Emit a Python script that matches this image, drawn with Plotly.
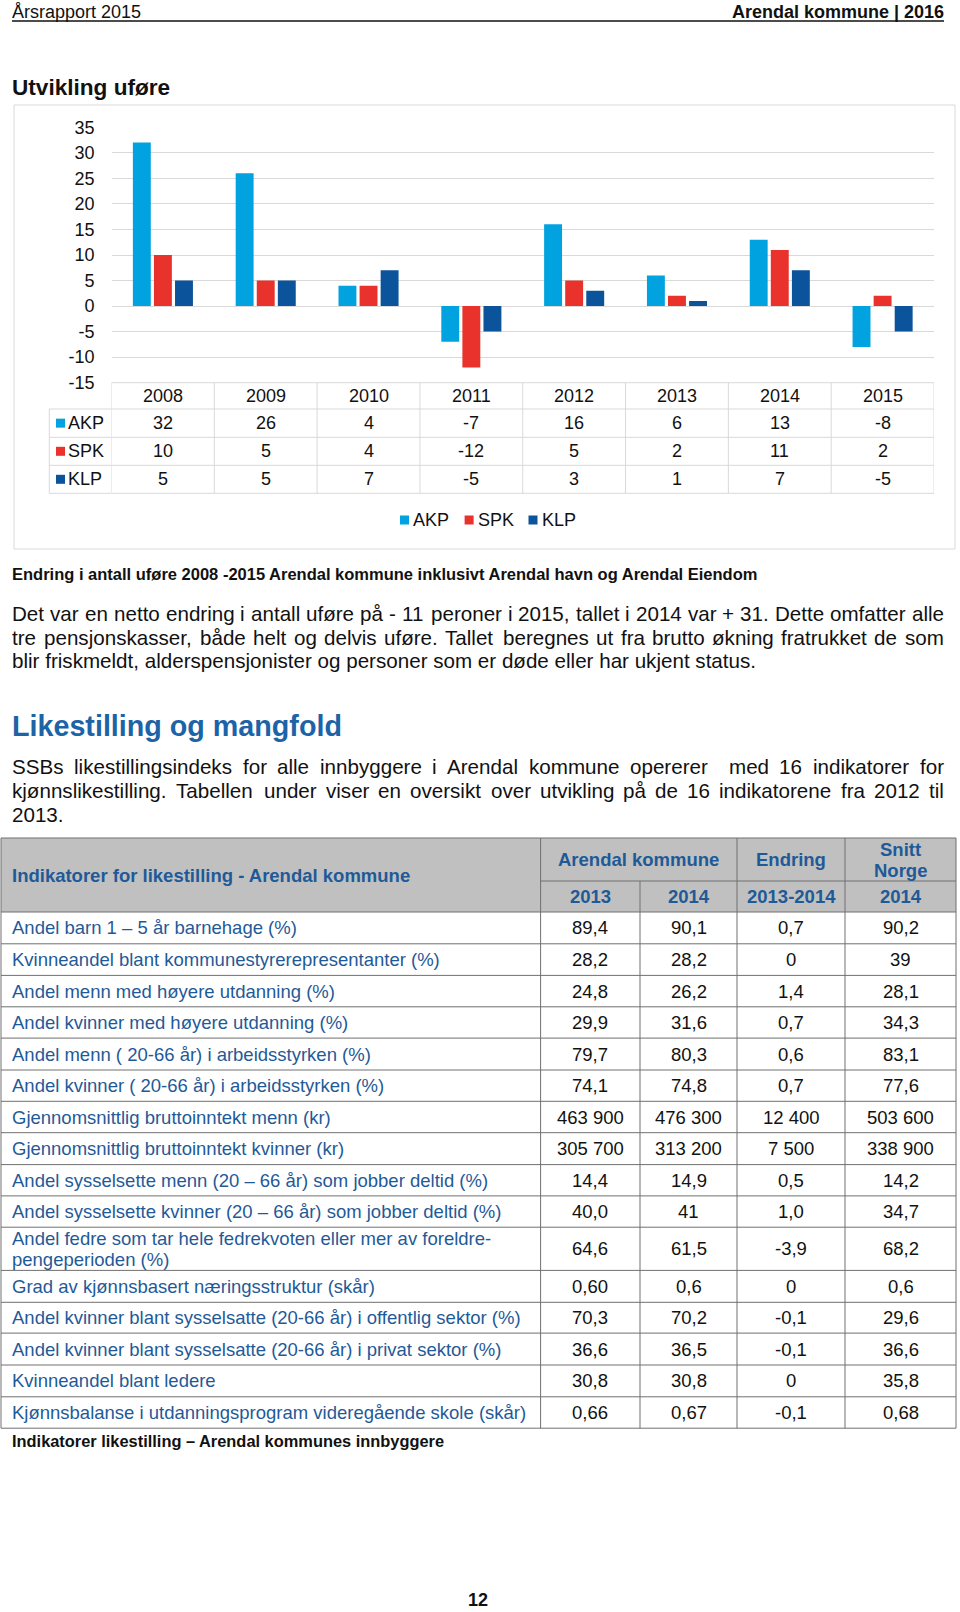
import plotly.graph_objects as go

W, H = 960, 1612
FONT = "Liberation Sans, Arial, Helvetica, sans-serif"

# ---------------- data ----------------
years = ["2008", "2009", "2010", "2011", "2012", "2013", "2014", "2015"]
series_names = ["AKP", "SPK", "KLP"]
akp = [32, 26, 4, -7, 16, 6, 13, -8]
spk = [10, 5, 4, -12, 5, 2, 11, 2]
klp = [5, 5, 7, -5, 3, 1, 7, -5]
y_ticks = [-15, -10, -5, 0, 5, 10, 15, 20, 25, 30, 35]

indicators = [
    "Andel barn 1 – 5 år barnehage (%)",
    "Kvinneandel blant kommunestyrerepresentanter (%)",
    "Andel menn med høyere utdanning (%)",
    "Andel kvinner med høyere utdanning (%)",
    "Andel menn ( 20-66 år) i arbeidsstyrken (%)",
    "Andel kvinner ( 20-66 år) i arbeidsstyrken (%)",
    "Gjennomsnittlig bruttoinntekt menn (kr)",
    "Gjennomsnittlig bruttoinntekt kvinner (kr)",
    "Andel sysselsette menn (20 – 66 år) som jobber deltid (%)",
    "Andel sysselsette kvinner (20 – 66 år) som jobber deltid (%)",
    "Andel fedre som tar hele fedrekvoten eller mer av foreldre-|pengeperioden (%)",
    "Grad av kjønnsbasert næringsstruktur (skår)",
    "Andel kvinner blant sysselsatte (20-66 år) i offentlig sektor (%)",
    "Andel kvinner blant sysselsatte (20-66 år) i privat sektor (%)",
    "Kvinneandel blant ledere",
    "Kjønnsbalanse i utdanningsprogram videregående skole (skår)",
]
v2013 = ["89,4", "28,2", "24,8", "29,9", "79,7", "74,1", "463 900", "305 700",
         "14,4", "40,0", "64,6", "0,60", "70,3", "36,6", "30,8", "0,66"]
v2014 = ["90,1", "28,2", "26,2", "31,6", "80,3", "74,8", "476 300", "313 200",
         "14,9", "41", "61,5", "0,6", "70,2", "36,5", "30,8", "0,67"]
endring = ["0,7", "0", "1,4", "0,7", "0,6", "0,7", "12 400", "7 500",
           "0,5", "1,0", "-3,9", "0", "-0,1", "-0,1", "0", "-0,1"]
snitt_norge = ["90,2", "39", "28,1", "34,3", "83,1", "77,6", "503 600", "338 900",
               "14,2", "34,7", "68,2", "0,6", "29,6", "36,6", "35,8", "0,68"]
sub_headers = ["2013", "2014", "2013-2014", "2014"]

para1 = [
    "Det var en netto endring i antall uføre på - 11 peroner i 2015, tallet i 2014 var + 31. Dette omfatter alle",
    "tre pensjonskasser, både helt og delvis uføre. Tallet beregnes ut fra brutto økning fratrukket de som",
    "blir friskmeldt, alderspensjonister og personer som er døde eller har ukjent status.",
]
para2 = [
    "SSBs likestillingsindeks for alle innbyggere i Arendal kommune opererer  med 16 indikatorer for",
    "kjønnslikestilling. Tabellen under viser en oversikt over utvikling på de 16 indikatorene fra 2012 til",
    "2013.",
]

# ---------------- styles ----------------
C_AKP, C_SPK, C_KLP = "#00A3E0", "#E8322B", "#0B539B"
series_colors = [C_AKP, C_SPK, C_KLP]
GRID = "#D9D9D9"
BLUE_TXT = "#1F5A98"
HEAD_BLUE = "#1C63A8"
TXT = "#111111"
TLINE = "#707070"
HEAD_BG = "#C0C0C0"


def px(x):
    return x / W


def py(y):
    return 1 - y / H


# Helvetica / Arial advance widths (1/1000 em) for justification
_chars = " !\"#$%&'()*+,-./0123456789:;<=>?@ABCDEFGHIJKLMNOPQRSTUVWXYZ[\\]^_`abcdefghijklmnopqrstuvwxyz{|}~"
_w = ([278, 278, 355, 556, 556, 889, 667, 191, 333, 333, 389, 584, 278, 333, 278, 278]
      + [556] * 10 + [278, 278, 584, 584, 584, 556, 1015]
      + [667, 667, 722, 722, 667, 611, 778, 722, 278, 500, 667, 556, 833, 722, 778, 667,
         778, 722, 667, 611, 722, 667, 944, 667, 667, 611]
      + [278, 278, 278, 469, 556, 333]
      + [556, 556, 500, 556, 556, 278, 556, 556, 222, 222, 500, 222, 833, 556, 556, 556,
         556, 333, 500, 278, 556, 500, 722, 500, 500, 500]
      + [334, 260, 334, 584])
HELV = dict(zip(_chars, _w))
HELV.update({"å": 556, "ø": 611, "æ": 889, "Å": 667, "Ø": 778, "Æ": 1000, "–": 556})


def tw(s, size):
    return sum(HELV.get(c, 556) for c in s) * size / 1000.0


annotations = []
shapes = []


def ann(text, x, y, size, color=TXT, bold=False, xanchor="left", xref="paper", yanchor="middle"):
    annotations.append(dict(
        text=text, x=x, y=y, xref=xref, yref="paper", showarrow=False,
        xanchor=xanchor, yanchor=yanchor, borderpad=0, borderwidth=0,
        font=dict(family=FONT, size=size, color=color, weight="bold" if bold else "normal"),
    ))


def hline(x0, x1, y, color, width=1, xref="paper"):
    shapes.append(dict(type="line", xref=xref, yref="paper", x0=x0, x1=x1, y0=py(y), y1=py(y),
                       line=dict(color=color, width=width)))


def vline(x, y0, y1, color, width=1, xref="paper"):
    shapes.append(dict(type="line", xref=xref, yref="paper", x0=x, x1=x, y0=py(y0), y1=py(y1),
                       line=dict(color=color, width=width)))


def rect(x0, y0, x1, y1, fill=None, line=None, xref="paper"):
    shapes.append(dict(type="rect", xref=xref, yref="paper", x0=x0, x1=x1, y0=py(y0), y1=py(y1),
                       fillcolor=fill if fill else "rgba(0,0,0,0)",
                       line=dict(color=line if line else "rgba(0,0,0,0)", width=1 if line else 0),
                       layer="below"))


# ---------------- figure / bars ----------------
fig = go.Figure()
for name, vals, col in zip(series_names, [akp, spk, klp], series_colors):
    fig.add_bar(x=years, y=vals, name=name, marker=dict(color=col, line=dict(width=0)))

PLOT_L, PLOT_R = 111.5, 934.0
Y_TOP, Y_BOT = 127.3, 382.7
n_cat = len(years)

fig.update_layout(
    width=W, height=H, margin=dict(l=0, r=0, t=0, b=0, autoexpand=False),
    paper_bgcolor="white", plot_bgcolor="white", showlegend=False,
    barmode="group", bargap=0.385, bargroupgap=0.15,
    font=dict(family=FONT, color=TXT),
)
fig.update_xaxes(type="category", domain=[px(PLOT_L), px(PLOT_R)], range=[-0.5, n_cat - 0.5],
                 autorange=False, showticklabels=False, automargin=False,
                 showgrid=False, zeroline=False, showline=False, ticks="")
fig.update_yaxes(range=[-15, 35], domain=[py(Y_BOT), py(Y_TOP)], automargin=False,
                 tickvals=y_ticks, ticktext=[str(v) for v in y_ticks],
                 gridcolor=GRID, gridwidth=1, zeroline=False, showline=False, ticks="",
                 tickfont=dict(size=18, color=TXT), ticklabelstandoff=16)

# ---------------- page header ----------------
ann("Årsrapport 2015", px(12), py(12), 18)
ann("Arendal kommune | 2016", px(944), py(12), 18, bold=True, xanchor="right")
hline(px(12), px(944), 21.0, "#111111", width=1.6)
ann("Utvikling uføre", px(12), py(87.5), 22.6, bold=True)

# chart frame
rect(px(14), 105, px(955), 549, line=GRID)

# ---------------- chart data table ----------------
TBL_LABEL_L = 49.3
hdr_top = Y_BOT
row_edges = [hdr_top, 409.0, 437.3, 465.3, 493.3]  # header, AKP, SPK, KLP rows
hline(-0.5, n_cat - 0.5, hdr_top, GRID, xref="x")
for yl in row_edges[1:]:
    hline(-0.5, n_cat - 0.5, yl, GRID, xref="x")
    hline(px(TBL_LABEL_L), px(PLOT_L), yl, GRID)
for i in range(n_cat + 1):
    vline(i - 0.5, hdr_top, row_edges[-1], GRID, xref="x")
vline(px(TBL_LABEL_L), row_edges[1], row_edges[-1], GRID)

hdr_c = (row_edges[0] + row_edges[1]) / 2
for i, yr in enumerate(years):
    ann(yr, i, py(hdr_c), 18, xanchor="center", xref="x")
for si, (name, vals, col) in enumerate(zip(series_names, [akp, spk, klp], series_colors)):
    yc = (row_edges[si + 1] + row_edges[si + 2]) / 2
    for i, v in enumerate(vals):
        ann(str(v), i, py(yc), 18, xanchor="center", xref="x")
    rect(px(56), yc - 4.5, px(65), yc + 4.5, fill=col)
    ann(name, px(68), py(yc), 18)

# legend
leg_y = 520
for name, col, sx in zip(series_names, series_colors, [400, 464.6, 528.5]):
    rect(px(sx), leg_y - 4.5, px(sx + 9), leg_y + 4.5, fill=col)
    ann(name, px(sx + 13), py(leg_y), 18)

# caption
ann("Endring i antall uføre 2008 -2015 Arendal kommune inklusivt Arendal havn og Arendal Eiendom",
    px(12), py(573.5), 16.5, bold=True)


# ---------------- body paragraphs ----------------
BODY_SIZE = 20.6
TEXT_L, TEXT_R = 12.3, 943.6


def paragraph(lines, y0, lh):
    for li, line in enumerate(lines):
        y = y0 + li * lh
        last = li == len(lines) - 1
        if last:
            ann(line, px(TEXT_L), py(y), BODY_SIZE)
            continue
        words = line.split(" ")
        ww = [tw(w, BODY_SIZE) for w in words]
        gap = (TEXT_R - TEXT_L - sum(ww)) / (len(words) - 1)
        cur = TEXT_L
        for w, wl in zip(words, ww):
            if w:
                ann(w, px(cur), py(y), BODY_SIZE)
            cur += wl + gap


paragraph(para1, 613.6, 23.6)
ann("Likestilling og mangfold", px(12), py(725.7), 28.7, color=HEAD_BLUE, bold=True)
paragraph(para2, 766.8, 23.6)

# ---------------- indicator table ----------------
T_L, T_R = 1.0, 956.0
col_x = [540.6, 640.0, 737.0, 845.0, 956.0]
col_c = [(col_x[i] + col_x[i + 1]) / 2 for i in range(4)]
H_TOP, H_MID, H_BOT = 838.0, 881.0, 912.0
row_bounds = [912.0, 943.8, 975.4, 1006.8, 1038.1, 1070.0, 1101.3, 1132.7, 1164.6,
              1195.9, 1227.2, 1270.4, 1302.3, 1333.1, 1365.0, 1396.8, 1428.2]
TS = 18.5

rect(px(T_L), H_TOP, px(T_R), H_BOT, fill=HEAD_BG)
hline(px(T_L), px(T_R), H_TOP, TLINE)
hline(px(col_x[0]), px(T_R), H_MID, TLINE)
for yb in row_bounds:
    hline(px(T_L), px(T_R), yb, TLINE)
vline(px(T_L), H_TOP, row_bounds[-1], TLINE)
for i, cx in enumerate(col_x):
    top = H_MID if i == 1 else H_TOP
    vline(px(cx), top, row_bounds[-1], TLINE)

ann("Indikatorer for likestilling - Arendal kommune", px(12.3), py(875.7), TS, color=BLUE_TXT, bold=True)
ann("Arendal kommune", px((col_x[0] + col_x[2]) / 2), py(859.3), TS, color=BLUE_TXT, bold=True, xanchor="center")
ann("Endring", px(col_c[2]), py(859.3), TS, color=BLUE_TXT, bold=True, xanchor="center")
ann("Snitt", px(col_c[3]), py(849.0), TS, color=BLUE_TXT, bold=True, xanchor="center")
ann("Norge", px(col_c[3]), py(870.6), TS, color=BLUE_TXT, bold=True, xanchor="center")
for c, t in zip(col_c, sub_headers):
    ann(t, px(c), py(896.3), TS, color=BLUE_TXT, bold=True, xanchor="center")

for r, label in enumerate(indicators):
    y0, y1 = row_bounds[r], row_bounds[r + 1]
    yc = (y0 + y1) / 2
    parts = label.split("|")
    if len(parts) == 1:
        ann(label, px(12.3), py(yc), TS, color=BLUE_TXT)
    else:
        ann(parts[0], px(12.3), py(yc - 10.3), TS, color=BLUE_TXT)
        ann(parts[1], px(12.3), py(yc + 10.3), TS, color=BLUE_TXT)
    for c, vals in zip(col_c, [v2013, v2014, endring, snitt_norge]):
        ann(vals[r], px(c), py(yc), TS, xanchor="center")

ann("Indikatorer likestilling – Arendal kommunes innbyggere", px(12), py(1441), 16.4, bold=True)

# page number
ann("12", px(478), py(1600), 18, bold=True, xanchor="center")

fig.update_layout(annotations=annotations, shapes=shapes)
fig.write_html("out.html")
